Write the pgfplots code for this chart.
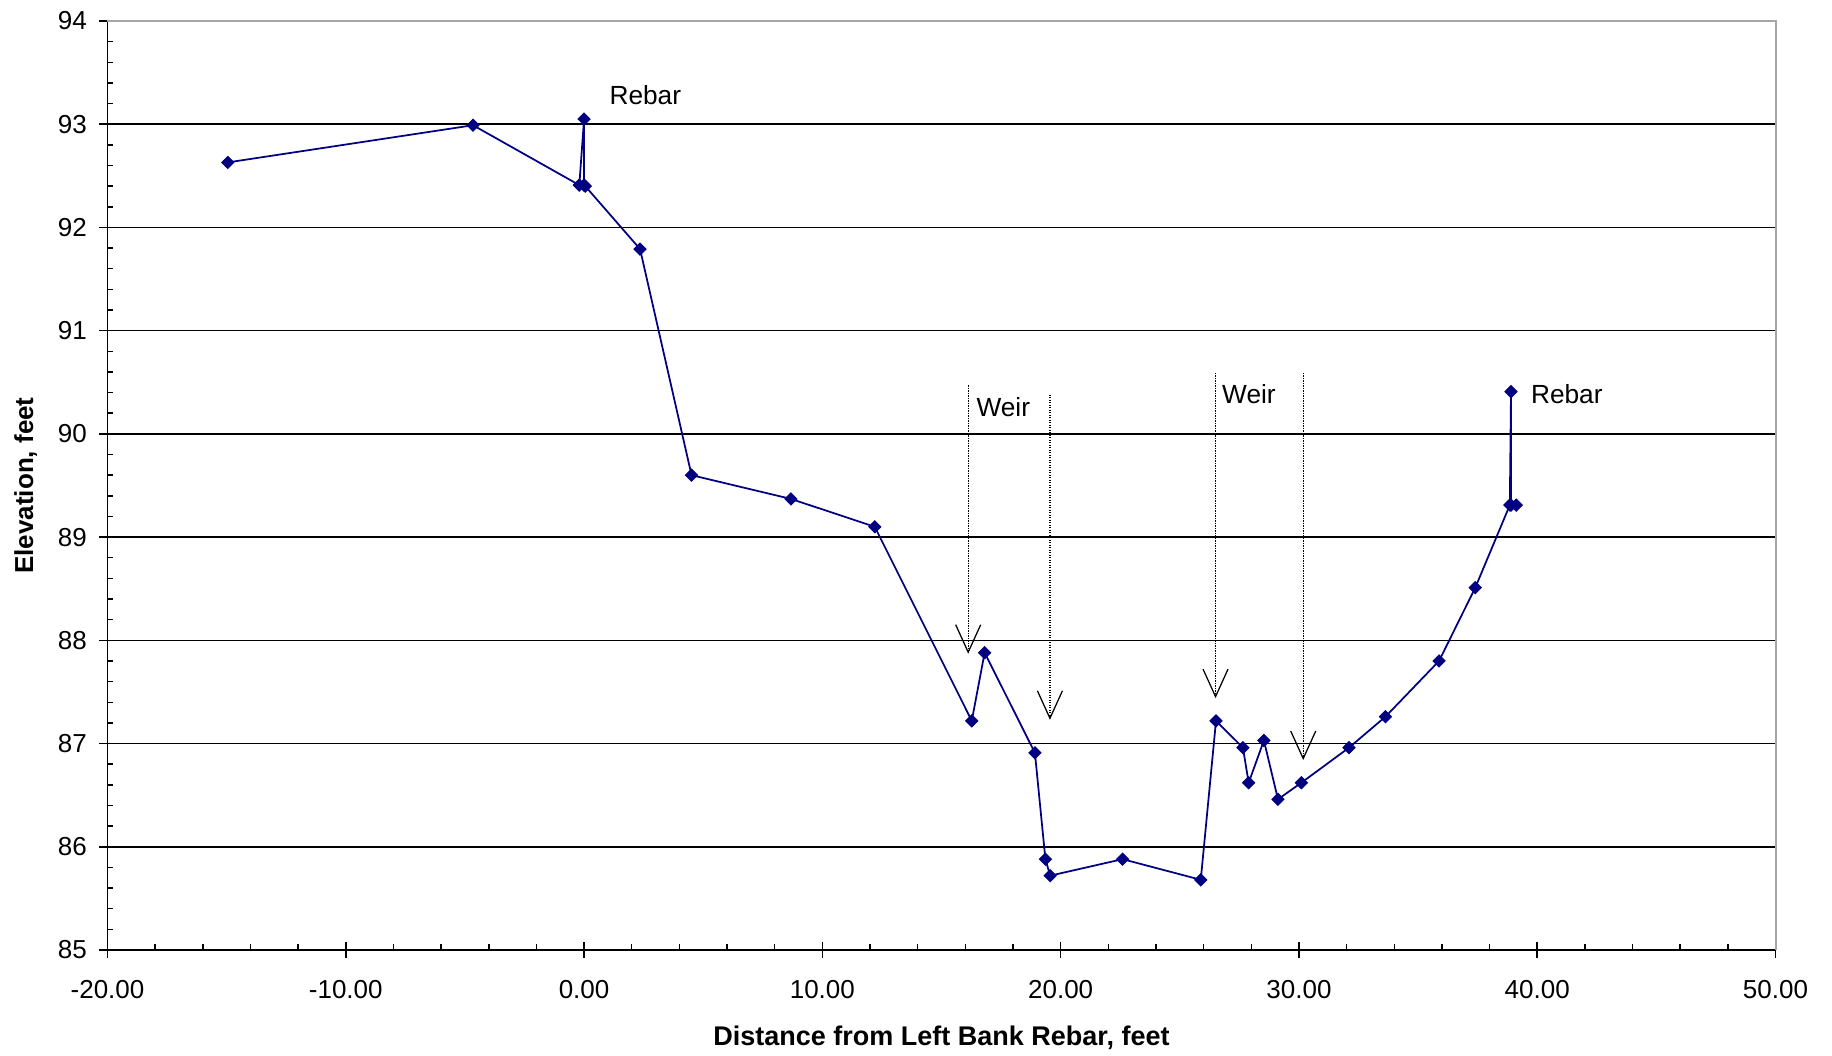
\documentclass[border=0pt]{standalone}
\usepackage{pgfplots}
\pgfplotsset{compat=1.18}
\usepackage{fontspec}
\setmainfont{Liberation Sans}
\usetikzlibrary{arrows.meta}
\definecolor{navyline}{RGB}{0,0,128}
\begin{document}
\begin{tikzpicture}
\begin{axis}[
  scale only axis,
  width=667.2pt, height=371.6pt,
  xmin=-20, xmax=50, ymin=85, ymax=94,
  axis x line*=bottom, axis y line*=left,
  axis line style={black, line width=0.6pt, -},
  xtick={-20,-10,...,50}, ytick={85,86,...,94},
  tick align=center, major tick length=6.4pt,
  tick style={black, line width=0.6pt},
  extra x ticks={-18,-16,-14,-12,-8,-6,-4,-2,2,4,6,8,12,14,16,18,22,24,26,28,32,34,36,38,42,44,46,48},
  extra x tick labels={},
  extra x tick style={tick align=inside, major tick length=2.4pt, grid=none},
  extra y ticks={85.2,85.4,85.6,85.8,86.2,86.4,86.6,86.8,87.2,87.4,87.6,87.8,88.2,88.4,88.6,88.8,89.2,89.4,89.6,89.8,90.2,90.4,90.6,90.8,91.2,91.4,91.6,91.8,92.2,92.4,92.6,92.8,93.2,93.4,93.6,93.8},
  extra y tick labels={},
  extra y tick style={tick align=inside, major tick length=2.4pt, grid=none},
  ymajorgrids, major grid style={black, line width=0.6pt},
  /pgf/number format/assume math mode=true,
  xticklabel style={font=\fontsize{10.4}{12}\selectfont, yshift=-5.6pt, /pgf/number format/fixed, /pgf/number format/fixed zerofill, /pgf/number format/precision=2},
  yticklabel style={font=\fontsize{10.4}{12}\selectfont, xshift=-1.5pt},
  xlabel={Distance from Left Bank Rebar, feet},
  ylabel={Elevation, feet},
  xlabel style={font=\bfseries\fontsize{10.8}{12}\selectfont, at={(axis description cs:0.5,0)}, anchor=center, yshift=-35pt},
  ylabel style={font=\bfseries\fontsize{10.4}{12}\selectfont, at={(axis description cs:0,0.5)}, anchor=center, yshift=32.7pt},
  clip=false,
]
\draw[gray!70, line width=0.8pt] (rel axis cs:0,1) -- (rel axis cs:1,1) -- (rel axis cs:1,0);
\coordinate (bl) at (rel axis cs:0,0);
\coordinate (tr) at (rel axis cs:1,1);
% weir indicators
\addplot[black, line width=0.5pt, dash pattern=on 0.5pt off 0.5pt, -{Straight Barb[length=11pt, width=10pt, line width=0.5pt]}] coordinates {(16.12,90.47) (16.12,87.87)};
\addplot[black, line width=0.5pt, dash pattern=on 0.5pt off 0.5pt, -{Straight Barb[length=11pt, width=10pt, line width=0.5pt]}] coordinates {(19.55,90.38) (19.55,87.23)};
\addplot[black, line width=0.5pt, dash pattern=on 0.5pt off 0.5pt, -{Straight Barb[length=11pt, width=10pt, line width=0.5pt]}] coordinates {(26.50,90.59) (26.50,87.44)};
\addplot[black, line width=0.5pt, dash pattern=on 0.5pt off 0.5pt, -{Straight Barb[length=11pt, width=10pt, line width=0.5pt]}] coordinates {(30.18,90.59) (30.18,86.84)};
% survey
\addplot[navyline, line width=0.7pt, mark=square*, mark size=1.75pt, mark options={rotate=45, fill=navyline, draw=navyline, line width=0.3pt}] coordinates {
(-14.95,92.63) (-4.66,92.99) (-0.20,92.41) (0.00,93.05) (0.00,92.41) (0.05,92.40)
(2.35,91.79) (4.51,89.60) (8.68,89.37) (12.20,89.10) (16.27,87.22) (16.81,87.88)
(18.92,86.91) (19.36,85.88) (19.56,85.72) (22.60,85.88) (25.88,85.68) (26.52,87.22)
(27.65,86.96) (27.89,86.62) (28.53,87.03) (29.12,86.46) (30.10,86.62) (32.10,86.96)
(33.63,87.26) (35.88,87.80) (37.40,88.51) (38.85,89.31) (38.90,90.41) (38.90,89.31)
(39.12,89.31)
};
\node[anchor=west, font=\fontsize{10.5}{12}\selectfont, inner sep=0pt] at (axis cs:1.05,93.28) {Rebar};
\node[anchor=west, font=\fontsize{10.5}{12}\selectfont, inner sep=0pt] at (axis cs:39.72,90.39) {Rebar};
\node[anchor=west, font=\fontsize{10.5}{12}\selectfont, inner sep=0pt] at (axis cs:16.45,90.26) {Weir};
\node[anchor=west, font=\fontsize{10.5}{12}\selectfont, inner sep=0pt] at (axis cs:26.76,90.39) {Weir};
\end{axis}
\pgfresetboundingbox
\path[use as bounding box] ([shift={(-43pt,-42.4pt)}]bl) rectangle ([shift={(22.6pt,8.4pt)}]tr);
\end{tikzpicture}
\end{document}
